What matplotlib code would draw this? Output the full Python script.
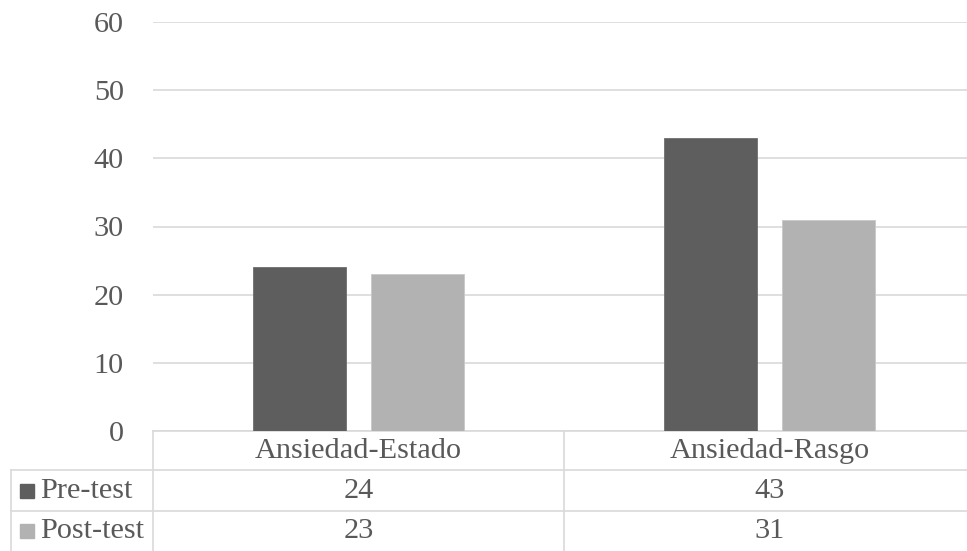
import matplotlib
matplotlib.use("Agg")
import matplotlib.pyplot as plt
from matplotlib.transforms import blended_transform_factory
from matplotlib.lines import Line2D

categories = ["Ansiedad-Estado", "Ansiedad-Rasgo"]
series_names = ["Pre-test", "Post-test"]
pre_test = [24, 43]
post_test = [23, 31]
yticks = [0, 10, 20, 30, 40, 50, 60]

colors = ["#5e5e5e", "#b2b2b2"]
text_color = "#595959"
grid_color = "#d9d9d9"

plt.rcParams['font.family'] = ['Liberation Serif', 'DejaVu Serif']
FS = 21.8

W, H = 967, 551
fig = plt.figure(figsize=(W / 100, H / 100), dpi=100)
left_px, right_px, top_px, bottom_px = 153, 975, 22, 431
ax = fig.add_axes([left_px / W, (H - bottom_px) / H, (right_px - left_px) / W, (bottom_px - top_px) / H])

x = list(range(len(categories)))
offset = 0.144
width = 0.227
values = [pre_test, post_test]
for i, (vals, col) in enumerate(zip(values, colors)):
    pos = [xi + (-offset if i == 0 else offset) for xi in x]
    ax.bar(pos, vals, width=width, color=col, edgecolor="#c8c8c8" if i == 1 else "#6e6e6e", linewidth=0.6, zorder=3)

ax.set_xlim(-0.5, 1.5)
ax.set_ylim(0, 60)
ax.set_yticks(yticks)
ax.set_yticklabels([str(t) for t in yticks], fontsize=FS, color=text_color)
ax.tick_params(axis='y', length=0, pad=21)
ax.set_xticks([])
for s in ax.spines.values():
    s.set_visible(False)
ax.grid(axis='y', color=grid_color, linewidth=1.2, zorder=0)
ax.set_axisbelow(True)

# Data table below the axes
ax_h = bottom_px - top_px
def ay(py):
    return (bottom_px - py) / ax_h

trans = blended_transform_factory(ax.transData, ax.transAxes)
fig_x = lambda px: px / W
trans_fx = blended_transform_factory(fig.transFigure, ax.transAxes)

row_bounds = [431, 470, 511, 551]
lw = 1.2
ax.add_line(Line2D([0, 1.2], [ay(431), ay(431)], transform=blended_transform_factory(ax.transAxes, ax.transAxes), color=grid_color, lw=lw, clip_on=False))
for yb in row_bounds[1:3]:
    ax.add_line(Line2D([fig_x(11), 1.05], [ay(yb), ay(yb)], transform=trans_fx, color=grid_color, lw=lw, clip_on=False))
ax.add_line(Line2D([fig_x(153), fig_x(153)], [ay(431), ay(560)], transform=trans_fx, color=grid_color, lw=lw, clip_on=False))
ax.add_line(Line2D([fig_x(11), fig_x(11)], [ay(470), ay(560)], transform=trans_fx, color=grid_color, lw=lw, clip_on=False))
for k in range(len(categories) - 1):
    ax.add_line(Line2D([k + 0.5, k + 0.5], [ay(431), ay(560)], transform=trans, color=grid_color, lw=lw, clip_on=False))

hy = ay((431 + 470) / 2)
for xi, c in zip(x, categories):
    ax.text(xi, hy, c, transform=trans, ha='center', va='center', fontsize=FS, color=text_color, clip_on=False)

for r, (name, vals, col) in enumerate(zip(series_names, values, colors)):
    yc = ay((row_bounds[r + 1] + row_bounds[r + 2]) / 2)
    ax.plot([fig_x(26.5)], [yc], transform=trans_fx, marker='s', markersize=9.5, color=col, clip_on=False, linestyle='none')
    ax.text(fig_x(40), yc, name, transform=trans_fx, ha='left', va='center', fontsize=FS, color=text_color, clip_on=False)
    for xi, v in zip(x, vals):
        ax.text(xi, yc, str(v), transform=trans, ha='center', va='center', fontsize=FS, color=text_color, clip_on=False)

fig.savefig("out.png", dpi=100)
